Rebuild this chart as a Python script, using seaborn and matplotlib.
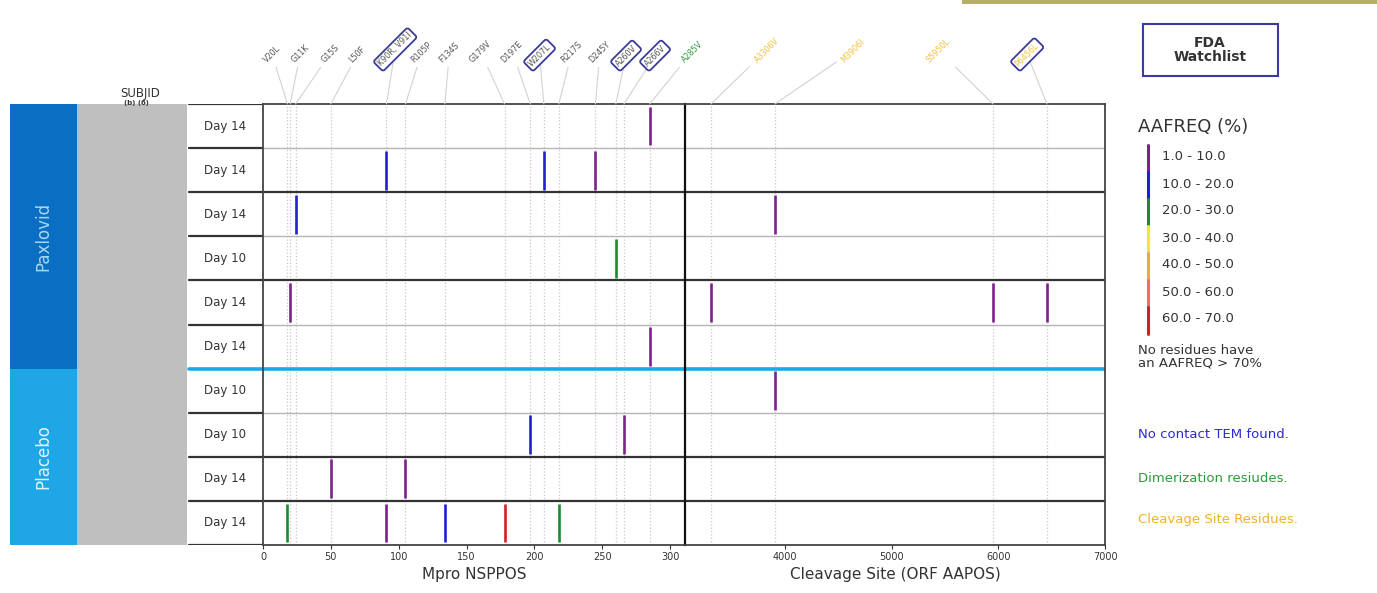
import matplotlib
matplotlib.use("Agg")
import matplotlib.pyplot as plt
import seaborn as sns
import pandas as pd
from matplotlib.patches import Rectangle
from matplotlib.lines import Line2D

# ---------------------------------------------------------
# data
# ---------------------------------------------------------
row_days = ["Day 14", "Day 14", "Day 14", "Day 10", "Day 14",
            "Day 14", "Day 10", "Day 10", "Day 14", "Day 14"]
row_arm = ["Paxlovid"] * 6 + ["Placebo"] * 4
row_subject = ["A", "A", "B", "B", "C", "C", "D", "D", "E", "F"]

# one entry per detected residue change
mut_row = [0, 1, 1, 1, 2, 2, 3, 4, 4, 4, 4, 5, 6, 7, 7, 8, 8, 9, 9, 9, 9, 9]
mut_pos = [285, 91, 207, 245, 24, 3906, 260, 20, 3306, 5950, 6456, 285, 3906,
           197, 266, 50, 105, 18, 91, 134, 178, 218]
mut_freq = [5, 15, 15, 5, 15, 5, 25, 5, 5, 5, 5, 5, 5,
            15, 5, 5, 5, 25, 5, 15, 65, 25]

# residue annotations across the top
mpro_labels = ["V20L", "G11K", "G15S", "L50F", "K90R, V91I", "R105P", "F134S", "G179V",
               "D197E", "W207L", "R217S", "D245Y", "A260V", "A266V", "A285V"]
mpro_label_pos = [18, 20, 24, 50, 91, 105, 134, 178, 197, 207, 218, 245, 260, 266, 285]
mpro_label_kind = ["plain", "plain", "plain", "plain", "watch", "plain", "plain", "plain",
                   "plain", "watch", "plain", "plain", "watch", "watch", "dimer"]

cleav_labels = ["A3306V", "M3906I", "S5950L", "P6456L"]
cleav_label_pos = [3306, 3906, 5950, 6456]
cleav_label_kind = ["cleave", "cleave", "cleave", "watchcleave"]

freq_bins = ["1.0 - 10.0", "10.0 - 20.0", "20.0 - 30.0", "30.0 - 40.0",
             "40.0 - 50.0", "50.0 - 60.0", "60.0 - 70.0"]
bin_colors = ["#80208f", "#2020d8", "#1f8a2a", "#f2e832", "#f2a640", "#ef6f5a", "#d42020"]

W, H = 1377, 593

sns.set_theme(style="white")
plt.rcParams["font.family"] = ["DejaVu Sans"]

df = pd.DataFrame({"row": mut_row, "pos": mut_pos, "freq": mut_freq})
df["color"] = [bin_colors[min(int(f // 10), 6)] for f in df["freq"]]

fig = plt.figure(figsize=(W / 100, H / 100), dpi=100)
fig.patch.set_facecolor("white")

bot = 1 - 545 / H
hgt = (545 - 104) / H

# overlay in pixel coordinates for the blocks and legend
ov = fig.add_axes([0, 0, 1, 1], zorder=0)
ov.set_xlim(0, W)
ov.set_ylim(H, 0)
ov.axis("off")

ax_day = fig.add_axes([187 / W, bot, 76 / W, hgt], zorder=2)
ax_l = fig.add_axes([263 / W, bot, (685 - 263) / W, hgt], zorder=2)
ax_r = fig.add_axes([685 / W, bot, (1105 - 685) / W, hgt], zorder=2)

n = len(row_days)

# ---- left blocks ----
ov.add_patch(Rectangle((77, 104), 110, 441, color="#bfbfbf", lw=0))
arm_colors = {"Paxlovid": ("#0a6fc2", "#a9d7f7"), "Placebo": ("#1ea6e6", "#e2f4ff")}
row_h = 441 / n
for arm in ["Paxlovid", "Placebo"]:
    idx = [i for i, a in enumerate(row_arm) if a == arm]
    y0 = 104 + idx[0] * row_h
    y1 = 104 + (idx[-1] + 1) * row_h
    ov.add_patch(Rectangle((10, y0), 67, y1 - y0, color=arm_colors[arm][0], lw=0))
    ov.text(43, (y0 + y1) / 2, arm, rotation=90, ha="center", va="center",
            fontsize=12, color=arm_colors[arm][1])
ov.text(140, 93, "SUBJID", ha="center", va="center", fontsize=8.5, color="#333333")
ov.text(136, 103, "(b) (6)", ha="center", va="center", fontsize=5, color="#333333",
        fontweight="bold")

# ---- day column ----
ax_day.set_xlim(0, 1)
ax_day.set_ylim(n, 0)
ax_day.axis("off")
for i, d in enumerate(row_days):
    ax_day.text(0.5, i + 0.5, d, ha="center", va="center", fontsize=8.5, color="#333333")


def sep_style(i):
    if row_arm[i] != row_arm[i - 1]:
        return "#1ca8e8", 2.6
    if row_subject[i] != row_subject[i - 1]:
        return "#333333", 1.6
    return "#b5b5b5", 1.0


for i in range(0, n + 1):
    if 0 < i < n and row_arm[i] != row_arm[i - 1]:
        c, lw = "#1ca8e8", 2.6
    else:
        c, lw = "#333333", 1.6
    ax_day.axhline(i, color=c, lw=lw, xmin=0.02)

# ---- main panels ----
for ax, lo, hi in [(ax_l, 0, 311), (ax_r, 3063, 7000)]:
    ax.set_xlim(lo, hi)
    ax.set_ylim(n, 0)
    ax.set_yticks([])
    ax.set_facecolor("white")
    for i in range(1, n):
        c, lw = sep_style(i)
        ax.axhline(i, color=c, lw=lw, zorder=1)
    sub = df[(df["pos"] >= lo) & (df["pos"] <= hi)]
    ax.vlines(sub["pos"], sub["row"] + 0.06, sub["row"] + 0.94,
              colors=sub["color"], lw=1.9, zorder=3)
    for s in ax.spines.values():
        s.set_color("#444444")
        s.set_linewidth(1.3)
    ax.tick_params(axis="x", labelsize=7, colors="#333333", length=3, width=0.8,
                   bottom=True, direction="out", pad=2)

ax_l.set_xticks([0, 50, 100, 150, 200, 250, 300])
ax_r.set_xticks([4000, 5000, 6000, 7000])
ax_r.spines["left"].set_color("#111111")
ax_r.spines["left"].set_linewidth(1.6)
ax_l.spines["right"].set_visible(False)
ax_l.set_xlabel("Mpro NSPPOS", fontsize=11, color="#333333", labelpad=4)
ax_r.set_xlabel("Cleavage Site (ORF AAPOS)", fontsize=11, color="#333333", labelpad=4)

# ---- top residue labels ----
kind_style = {
    "plain": ("#555555", None),
    "dimer": ("#2e9a3a", None),
    "cleave": ("#f0c040", None),
    "watch": ("#555555", "#3b3b9a"),
    "watchcleave": ("#f0c040", "#3b3b9a"),
}
mpro_text_x = [268, 296, 326, 354, 383, 416, 444, 474, 506, 533, 566, 594, 620, 649, 686]
cleav_text_x = [759, 846, 931, 1020]


def put_labels(ax, labels, pos, kinds, text_x):
    for lab, p, k, tx in zip(labels, pos, kinds, text_x):
        ax.axvline(p, color="#c8c8c8", ls=":", lw=0.9, zorder=0)
        tc, ec = kind_style[k]
        bbox = None
        ty = H - 64
        if ec is not None:
            bbox = dict(boxstyle="round,pad=0.3", fc="white", ec=ec, lw=1.3)
            ty = H - 68
        ax.annotate(lab, xy=(p, 1.0), xycoords=("data", "axes fraction"),
                    xytext=(tx, ty), textcoords="figure pixels",
                    rotation=45, rotation_mode="anchor", ha="left", va="bottom",
                    fontsize=5.8, color=tc, bbox=bbox,
                    arrowprops=dict(arrowstyle="-", color="#d2d2d2", lw=0.8,
                                    shrinkA=0, shrinkB=0),
                    annotation_clip=False)


put_labels(ax_l, mpro_labels, mpro_label_pos, mpro_label_kind, mpro_text_x)
put_labels(ax_r, cleav_labels, cleav_label_pos, cleav_label_kind, cleav_text_x)

# ---- legend area ----
ov.add_patch(Rectangle((962, 0), W - 962, 4, color="#b5ae6a", lw=0))
ov.add_patch(Rectangle((1143, 24), 135, 52, fc="white", ec="#3b3b9a", lw=1.5))
ov.text(1210, 50, "FDA\nWatchlist", ha="center", va="center", fontsize=10,
        color="#333333", fontweight="bold", linespacing=1.0)
ov.text(1138, 127, "AAFREQ (%)", ha="left", va="center", fontsize=13, color="#333333")
seg_top = 145
seg_h = 27
for j, (lab, c) in enumerate(zip(freq_bins, bin_colors)):
    y0 = seg_top + j * seg_h
    ov.add_line(Line2D([1148, 1148], [y0, y0 + seg_h], color=c, lw=2.2))
    ov.text(1162, y0 + 12, lab, ha="left", va="center", fontsize=9.5, color="#333333")
ov.text(1138, 357, "No residues have\nan AAFREQ > 70%", ha="left", va="center",
        fontsize=9.5, color="#333333", linespacing=1.0)
ov.text(1138, 435, "No contact TEM found.", ha="left", va="center", fontsize=9.5,
        color="#2a2ad0")
ov.text(1138, 478, "Dimerization resiudes.", ha="left", va="center", fontsize=9.5,
        color="#2e9a3a")
ov.text(1138, 520, "Cleavage Site Residues.", ha="left", va="center", fontsize=9.5,
        color="#f0b030")

fig.savefig("out.png", dpi=100)
